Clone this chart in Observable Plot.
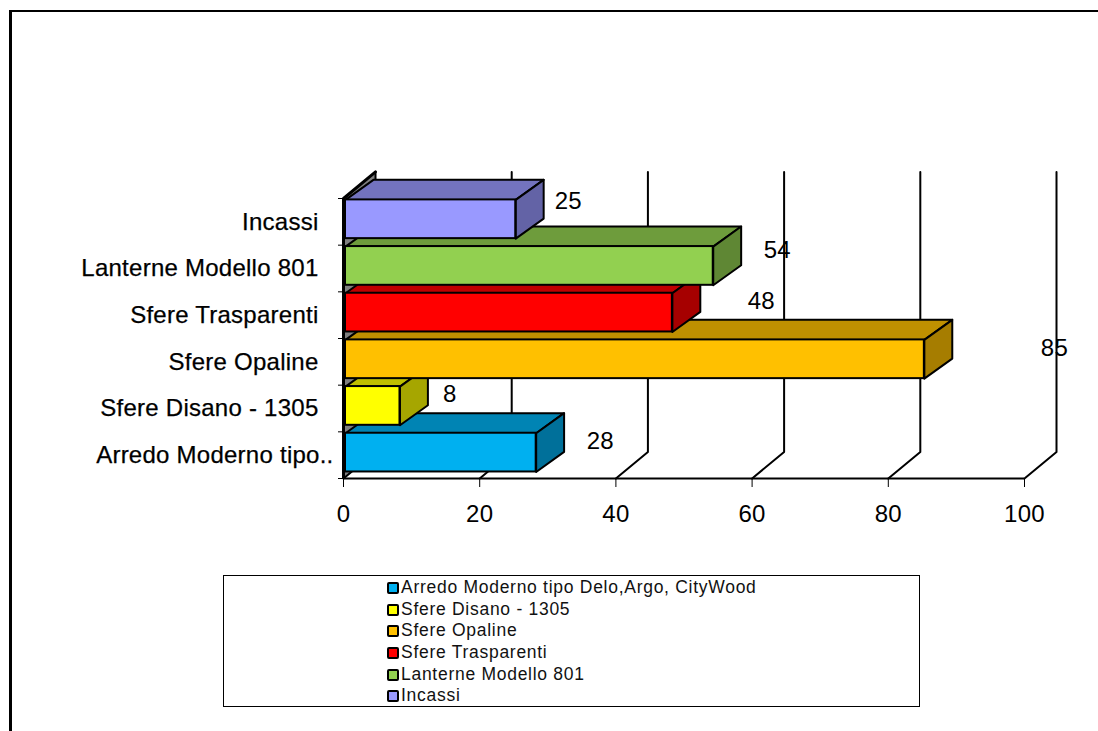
<!DOCTYPE html>
<html>
<head>
<meta charset="utf-8">
<script src="https://cdn.jsdelivr.net/npm/d3@7"></script>
<script src="https://cdn.jsdelivr.net/npm/@observablehq/plot@0.6"></script>
<style>
  html, body { margin: 0; padding: 0; background: #fff; overflow: hidden; width: 1098px; height: 731px; }
  body { position: relative; font-family: "Liberation Sans", Arial, sans-serif; color: #000; }
  #frame { position: absolute; left: 9px; top: 10px; width: 1200px; height: 900px; border-style: solid; border-color: #000; border-width: 2px 0 0 3px; box-sizing: border-box; }
  #chart { position: absolute; left: 0; top: 0; }
  #chart svg { display: block; background: transparent; }
  #legend { position: absolute; left: 223px; top: 575px; width: 697px; height: 132px; box-sizing: border-box;
            border: 1px solid #000; background: #fff; padding: 1px 0 0 163px; }
  .row { height: 21.7px; line-height: 21.7px; font-size: 17.5px; letter-spacing: 0.72px; white-space: nowrap; display: flex; align-items: center; color: #111; }
  .swatch { width: 8px; height: 8px; border: 2px solid #000; border-radius: 2px; margin-right: 2px; flex: none; }
</style>
</head>
<body>
<div id="frame"></div>
<div id="chart"></div>
<div id="legend"></div>
<script>
// Lamp counts per product family, listed from the bottom row of the chart upward.
const names = ["Arredo Moderno tipo Delo,Argo, CityWood", "Sfere Disano - 1305", "Sfere Opaline", "Sfere Trasparenti", "Lanterne Modello 801", "Incassi"];
const axisNames = ["Arredo Moderno tipo..", "Sfere Disano - 1305", "Sfere Opaline", "Sfere Trasparenti", "Lanterne Modello 801", "Incassi"];
const values = [28, 8, 85, 48, 54, 25];
const frontColors = ["#00B0F0", "#FFFF00", "#FFC000", "#FF0000", "#92D050", "#9999FF"];
const topColors = ["#0084B4", "#BFBF00", "#BF9000", "#C00000", "#6E9C3C", "#7373BF"];
const sideColors = ["#00709A", "#A6A600", "#A67D00", "#A60000", "#5F8734", "#6363A6"];
const xTicks = [0, 20, 40, 60, 80, 100];
// Free-floating value labels: horizontal gap from the bar end, in axis units, and lift in rows.
const labelGap = [9.7, 7.6, 19.4, 13.35, 9.7, 8];
const labelLift = [0.3, 0.3, 0.3, 0.3, 0.39, 0.43];

// Oblique projection of the box depth, in scale units.
const barDepthX = 4.1, barDepthY = 0.43;
const wallDepthX = 4.7, wallDepthY = 0.57;
const barLow = 0.14, barHigh = 0.97;

const poly = (id, fill, pts) => pts.map(([x, y]) => ({id, fill, x, y}));

const wall = poly("left", "#808080", [[0, 0], [wallDepthX, wallDepthY], [wallDepthX, 6 + wallDepthY], [0, 6]]);
const gridLines = xTicks.flatMap(t => [
  {t, x: t, y: 0},
  {t, x: t + wallDepthX, y: wallDepthY},
  {t, x: t + wallDepthX, y: 6 + wallDepthY}
]);
const wallTop = [{x: 0, y: 6}, {x: wallDepthX, y: 6 + wallDepthY}];

const faceOpts = {x: "x", y: "y", z: "id", fill: "fill", stroke: "#000", strokeWidth: 2, curve: "linear-closed", dx: 2, strokeLinejoin: "round"};

const barMarks = names.flatMap((name, i) => {
  const v = values[i], y0 = i + barLow, y1 = i + barHigh;
  return [
    Plot.line(poly("top", topColors[i], [[0, y1], [barDepthX, y1 + barDepthY], [v + barDepthX, y1 + barDepthY], [v, y1]]), faceOpts),
    Plot.line(poly("side", sideColors[i], [[v, y0], [v + barDepthX, y0 + barDepthY], [v + barDepthX, y1 + barDepthY], [v, y1]]), faceOpts),
    Plot.rect([{v, y0, y1}], {x1: 0, x2: "v", y1: "y0", y2: "y1", fill: frontColors[i], stroke: "#000", strokeWidth: 2, dx: 2})
  ];
});

const rows = names.map((name, i) => ({
  label: axisNames[i],
  row: i + 0.5,
  value: values[i],
  gap: labelGap[i],
  lift: labelLift[i]
}));

const fontSize = 24;

const chart = Plot.plot({
  width: 1098,
  height: 575,
  marginLeft: 343,
  marginRight: 74,
  marginTop: 198,
  marginBottom: 97,
  style: {background: "transparent", fontFamily: "'Liberation Sans', Arial, sans-serif", color: "#000", letterSpacing: "0.25px"},
  x: {domain: [0, 100], type: "linear"},
  y: {domain: [0, 6], type: "linear"},
  marks: [
    Plot.line(wall, {x: "x", y: "y", z: "id", fill: "fill", curve: "linear-closed", stroke: "none"}),
    Plot.line(gridLines, {x: "x", y: "y", z: "t", stroke: "#000", strokeWidth: 2}),
    Plot.line(wallTop, {x: "x", y: "y", stroke: "#000", strokeWidth: 3}),
    Plot.ruleY([0], {x1: 0, x2: 100, stroke: "#000", strokeWidth: 2}),
    Plot.ruleX([0], {y1: 0, y2: 6, stroke: "#000", strokeWidth: 3}),
    ...barMarks,
    Plot.axisX({ticks: xTicks, tickSize: 9, tickPadding: 17, fontSize, label: null, stroke: "#000", strokeWidth: 1}),
    Plot.axisY({ticks: d3.range(0, 7), tickSize: 5, tickFormat: () => "", label: null, stroke: "#000", strokeWidth: 1}),
    Plot.text(rows.filter(d => !d.label.endsWith("..")), {x: 0, y: "row", text: "label", textAnchor: "end", dx: -25, fontSize, fill: "#000", stroke: "#000", strokeWidth: 0.25}),
    Plot.text(rows.filter(d => d.label.endsWith("..")), {x: 0, y: "row", text: "label", textAnchor: "end", dx: -10, fontSize, fill: "#000", stroke: "#000", strokeWidth: 0.25}),
    Plot.text(rows, {x: d => d.value + d.gap, y: d => d.row + d.lift, text: "value", fontSize, fill: "#000"})
  ]
});
document.getElementById("chart").appendChild(chart);

// Legend box: first entry on top, same order as the arrays.
const legend = document.getElementById("legend");
names.forEach((name, i) => {
  const row = document.createElement("div");
  row.className = "row";
  const swatch = document.createElement("span");
  swatch.className = "swatch";
  swatch.style.background = frontColors[i];
  row.appendChild(swatch);
  row.appendChild(document.createTextNode(name));
  legend.appendChild(row);
});
</script>
</body>
</html>
